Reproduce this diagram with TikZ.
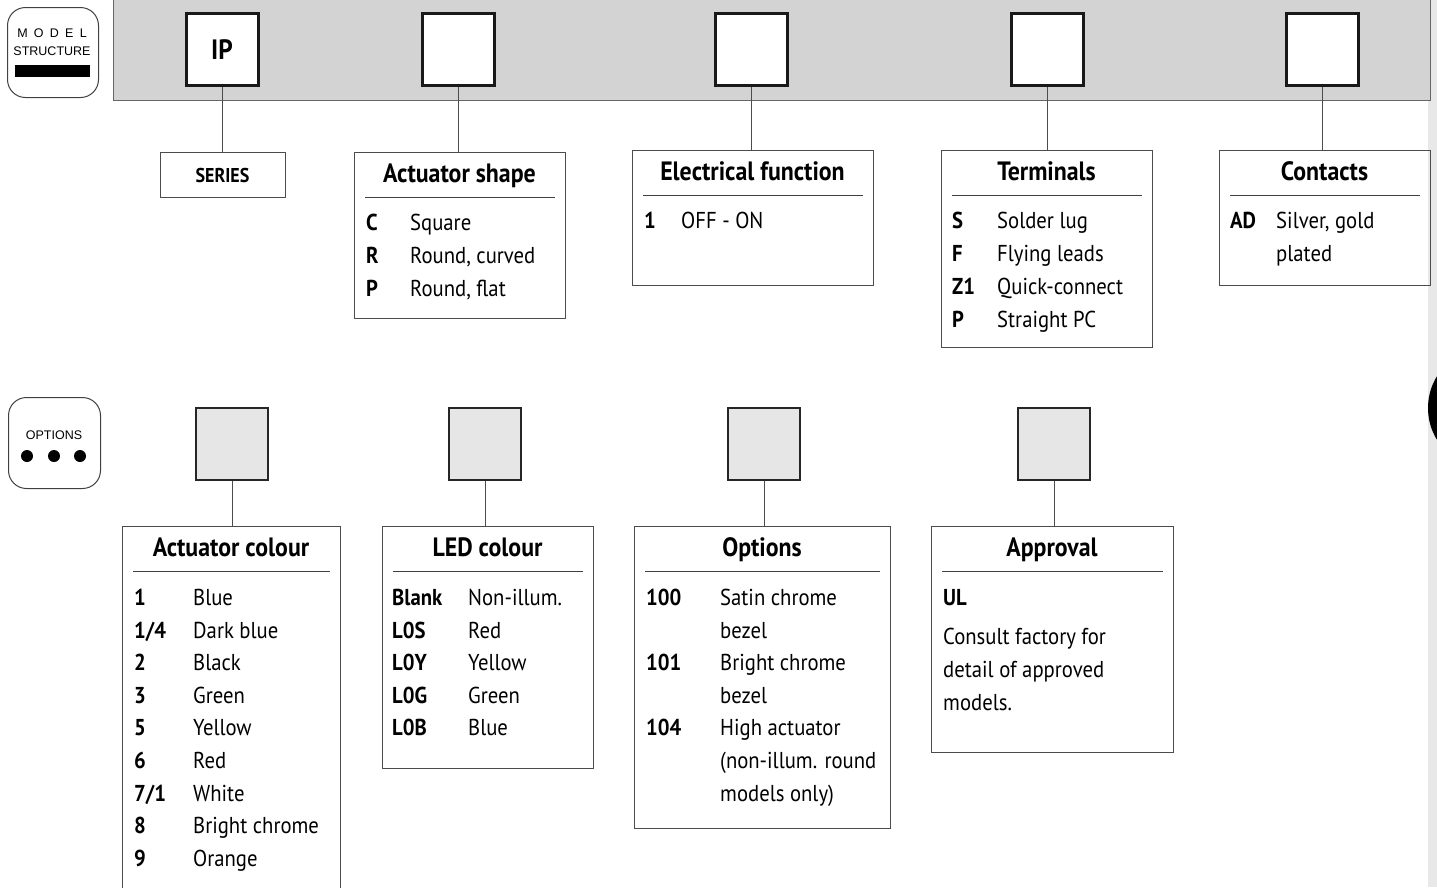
\documentclass[tikz,border=0pt]{standalone}
\usepackage{fontspec}
\setmainfont[FakeStretch=0.9]{PT Sans}
\setsansfont{Liberation Sans}
\usetikzlibrary{calc}
\definecolor{bargray}{HTML}{D3D3D3}
\definecolor{optgray}{HTML}{E6E6E6}
\definecolor{edgegray}{HTML}{E8E8E8}
\tikzset{
    codebox/.style = {draw=black!70, line width=1.2pt, anchor=north west, inner sep=0pt},
    topsq/.style   = {draw=black!90, line width=3pt, fill=white, minimum size=72pt, inner sep=0pt},
    optsq/.style   = {draw=black!85, line width=2.2pt, fill=optgray, minimum size=72pt, inner sep=0pt},
    badge/.style   = {draw=black!75, line width=1pt, rounded corners=18pt, anchor=north west, inner sep=0pt},
    hd/.style      = {font=\fontsize{26.5}{26.5}\selectfont\bfseries, anchor=base, inner sep=0pt},
    tx/.style      = {font=\fontsize{23}{23}\selectfont, anchor=mid west, inner sep=0pt},
    cd/.style      = {tx, font=\fontsize{23}{23}\selectfont\bfseries},
    link/.style    = {draw=black!70, line width=1pt},
    rule/.style    = {draw=black!75, line width=1pt}
}

\begin{document}
\begin{tikzpicture}[x=1pt, y=-1pt]
    \useasboundingbox (0,0) rectangle (1437,887);
    % page edge strip and tab
    \fill[edgegray] (1428,0) rectangle (1437,887);
    \fill[black] (1489,408) circle (61);
    % model structure bar
    \fill[bargray] (113,0) rectangle (1430,100);
    \draw[black!60, line width=1pt] (113,0) -- (113,100) -- (1430,100) -- (1430,0);

    % badges
    \node[badge, minimum width=91pt, minimum height=90pt] (msbadge) at (7,7) {};
    \node[font=\sffamily\fontsize{12.5}{12.5}\selectfont] (msmodel) at (52,33) {M\,\,\,O\,\,\,D\,\,\,E\,\,\,L};
    \node[font=\sffamily\fontsize{12.5}{12.5}\selectfont] (msstruct) at (52,51) {STRUCTURE};
    \fill[black] (15,65) rectangle (90,77);
    \node[badge, minimum width=92pt, minimum height=91pt] (opbadge) at (8,397) {};
    \node[font=\sffamily\fontsize{12.5}{12.5}\selectfont] (optext) at (54,435) {OPTIONS};
    \foreach \x in {27,54,80}
        \fill[black] (\x,456) circle (6);

    % top squares
    \node[topsq] (sqIP) at (222,49.5) {\fontsize{28}{28}\selectfont\bfseries IP};
    \node[topsq] (sqA) at (458,49.5) {};
    \node[topsq] (sqB) at (751,49.5) {};
    \node[topsq] (sqC) at (1047,49.5) {};
    \node[topsq] (sqD) at (1322,49.5) {};

    % option squares
    \node[optsq] (osA) at (232,444) {};
    \node[optsq] (osB) at (485,444) {};
    \node[optsq] (osC) at (764,444) {};
    \node[optsq] (osD) at (1054,444) {};

    % series
    \node[codebox, minimum width=125pt, minimum height=45pt] (series) at (160,152) {};
    \node[font=\fontsize{20}{20}\selectfont\bfseries] (seriestt) at (222.5,175) {SERIES};

    % actuator shape
    \node[codebox, minimum width=211pt, minimum height=166pt] (shape) at (354,152) {};
    \node[hd] (shapett) at (459.5,182) {Actuator shape};
    \draw[rule] ($(shape.north west)+(11,45)$) -- ($(shape.north east)+(-11,45)$);
    \foreach \c/\d [count=\i] in {C/Square, R/{Round, curved}, P/{Round, flat}} {
        \node[cd] (shc\i) at (366,{228+(\i-1)*33}) {\c};
        \node[tx] (shd\i) at (410,{228+(\i-1)*33}) {\d};
    }

    % electrical function
    \node[codebox, minimum width=241pt, minimum height=135pt] (elec) at (632,150) {};
    \node[hd] (electt) at (752.5,180) {Electrical function};
    \draw[rule] ($(elec.north west)+(11,45)$) -- ($(elec.north east)+(-11,45)$);
    \node[cd] (elc1) at (644,226) {1};
    \node[tx] (eld1) at (681,226) {OFF - ON};

    % terminals
    \node[codebox, minimum width=211pt, minimum height=197pt] (term) at (941,150) {};
    \node[hd] (termtt) at (1046.5,180) {Terminals};
    \draw[rule] ($(term.north west)+(11,45)$) -- ($(term.north east)+(-11,45)$);
    \foreach \c/\d [count=\i] in {S/Solder lug, F/Flying leads, Z1/Quick-connect, P/Straight PC} {
        \node[cd] (tec\i) at (952,{226+(\i-1)*33}) {\c};
        \node[tx] (ted\i) at (997,{226+(\i-1)*33}) {\d};
    }

    % contacts
    \node[codebox, minimum width=211pt, minimum height=135pt] (cont) at (1219,150) {};
    \node[hd] (conttt) at (1324.5,180) {Contacts};
    \draw[rule] ($(cont.north west)+(11,45)$) -- ($(cont.north east)+(-11,45)$);
    \node[cd] (coc1) at (1230,226) {AD};
    \node[tx] (cod1) at (1276,226) {Silver, gold};
    \node[tx] (cod2) at (1276,259) {plated};

    % actuator colour
    \node[codebox, minimum width=218pt, minimum height=380pt] (acol) at (122,526) {};
    \node[hd] (acoltt) at (231,556) {Actuator colour};
    \draw[rule] ($(acol.north west)+(11,45)$) -- ($(acol.north east)+(-11,45)$);
    \foreach \c/\d [count=\i] in {1/Blue, {1/4}/Dark blue, 2/Black, 3/Green, 5/Yellow,
                                  6/Red, {7/1}/White, 8/Bright chrome, 9/Orange} {
        \node[cd] (acc\i) at (134,{603+(\i-1)*32.6}) {\c};
        \node[tx] (acd\i) at (193,{603+(\i-1)*32.6}) {\d};
    }

    % led colour
    \node[codebox, minimum width=211pt, minimum height=242pt] (led) at (382,526) {};
    \node[hd] (ledtt) at (487.5,556) {LED colour};
    \draw[rule] ($(led.north west)+(11,45)$) -- ($(led.north east)+(-11,45)$);
    \foreach \c/\d [count=\i] in {Blank/Non-illum., L0S/Red, L0Y/Yellow, L0G/Green, L0B/Blue} {
        \node[cd] (lec\i) at (392,{603+(\i-1)*32.6}) {\c};
        \node[tx] (led\i) at (468,{603+(\i-1)*32.6}) {\d};
    }

    % options
    \node[codebox, minimum width=256pt, minimum height=302pt] (opts) at (634,526) {};
    \node[hd] (optstt) at (762,556) {Options};
    \draw[rule] ($(opts.north west)+(11,45)$) -- ($(opts.north east)+(-11,45)$);
    \node[cd] (opc1) at (646,603) {100};
    \node[cd] (opc2) at (646,668) {101};
    \node[cd] (opc3) at (646,733) {104};
    \foreach \d [count=\i] in {Satin chrome, bezel, Bright chrome, bezel, High actuator,
                               {(non-illum. round}, {models only)}}
        \node[tx] (opd\i) at (720,{603+(\i-1)*32.6}) {\d};

    % approval
    \node[codebox, minimum width=242pt, minimum height=226pt] (appr) at (931,526) {};
    \node[hd] (apprtt) at (1052,556) {Approval};
    \draw[rule] ($(appr.north west)+(11,45)$) -- ($(appr.north east)+(-11,45)$);
    \node[cd] (apc1) at (943,603) {UL};
    \foreach \d [count=\i] in {Consult factory for, detail of approved, models.}
        \node[tx] (apd\i) at (943,{642+(\i-1)*33}) {\d};

    % connectors
    \draw[link] (sqIP.south) -- (sqIP.south |- series.north);
    \draw[link] (sqA.south) -- (sqA.south |- shape.north);
    \draw[link] (sqB.south) -- (sqB.south |- elec.north);
    \draw[link] (sqC.south) -- (sqC.south |- term.north);
    \draw[link] (sqD.south) -- (sqD.south |- cont.north);
    \draw[link] (osA.south) -- (osA.south |- acol.north);
    \draw[link] (osB.south) -- (osB.south |- led.north);
    \draw[link] (osC.south) -- (osC.south |- opts.north);
    \draw[link] (osD.south) -- (osD.south |- appr.north);
\end{tikzpicture}
\end{document}
